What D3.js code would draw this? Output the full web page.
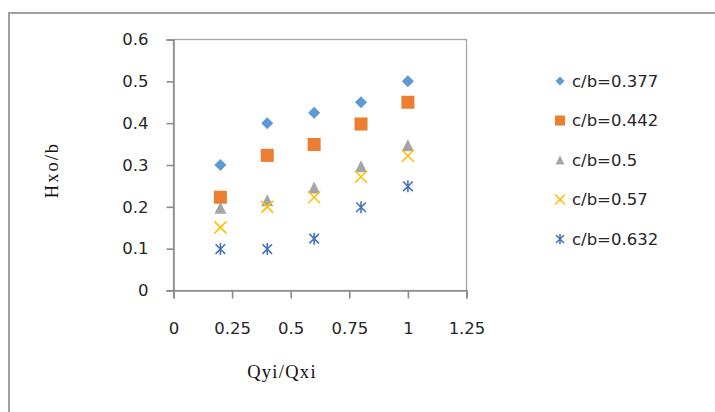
<!DOCTYPE html>
<html>
<head>
<meta charset="utf-8">
<script src="https://cdn.jsdelivr.net/npm/d3@7"></script>
<style>
  html, body { margin: 0; padding: 0; background: #fff; }
  svg { display: block; }
</style>
</head>
<body>
<svg id="chart" width="715" height="412"></svg>
<script>
// ---- data ----
const xValues = [0.2, 0.4, 0.6, 0.8, 1.0];
const seriesNames = ["c/b=0.377", "c/b=0.442", "c/b=0.5", "c/b=0.57", "c/b=0.632"];
const s0377 = [0.300, 0.400, 0.425, 0.450, 0.500];
const s0442 = [0.223, 0.323, 0.349, 0.398, 0.450];
const s05   = [0.198, 0.216, 0.246, 0.297, 0.347];
const s057  = [0.151, 0.200, 0.223, 0.272, 0.322];
const s0632 = [0.099, 0.099, 0.124, 0.199, 0.249];
const xTicks = [0, 0.25, 0.5, 0.75, 1, 1.25];
const yTicks = [0, 0.1, 0.2, 0.3, 0.4, 0.5, 0.6];
const xTitle = "Qyi/Qxi";
const yTitle = "Hxo/b";

const seriesValues = [s0377, s0442, s05, s057, s0632];
const colors = ["#5B9BD5", "#ED7D31", "#A5A5A5", "#FFC000", "#4472C4"];
const shapes = ["diamond", "square", "triangle", "x", "star"];

const svg = d3.select("#chart");

// outer frame
svg.append("path")
  .attr("d", "M9,412 L9,13 L715,13")
  .attr("fill", "none").attr("stroke", "#a0a0a0").attr("stroke-width", 2);

const x = d3.scaleLinear().domain([0, 1.25]).range([173.5, 466.5]);
const y = d3.scaleLinear().domain([0, 0.6]).range([290.5, 39.5]);

// plot area border
svg.append("rect")
  .attr("x", x(0)).attr("y", y(0.6))
  .attr("width", x(1.25) - x(0)).attr("height", y(0) - y(0.6))
  .attr("fill", "none").attr("stroke", "#a6a6a6").attr("stroke-width", 1.3);

const axisColor = "#8c8c8c";
const tickFont = "DejaVu Sans, sans-serif";

const gy = svg.append("g").attr("transform", `translate(${x(0)},0)`)
  .call(d3.axisLeft(y).tickValues(yTicks).tickSize(7).tickPadding(18)
        .tickFormat(d3.format("~g")));
const gx = svg.append("g").attr("transform", `translate(0,${y(0)})`)
  .call(d3.axisBottom(x).tickValues(xTicks).tickSize(8).tickPadding(24)
        .tickFormat(d3.format("~g")));
[gx, gy].forEach(g => {
  g.select(".domain").attr("stroke", axisColor).attr("stroke-width", 1.6);
  g.selectAll(".tick line").attr("stroke", axisColor).attr("stroke-width", 1.6);
  g.selectAll(".tick text").attr("fill", "#262626")
    .style("font-family", tickFont).style("font-size", "16.5px");
});

// axis titles
svg.append("text")
  .attr("x", 282).attr("y", 378)
  .attr("text-anchor", "middle")
  .style("font-family", "Liberation Serif, serif").style("font-size", "18.5px")
  .style("letter-spacing", "1.3px")
  .attr("fill", "#111")
  .text(xTitle);
svg.append("text")
  .attr("transform", "translate(58,170) rotate(-90)")
  .attr("text-anchor", "middle")
  .style("font-family", "Liberation Serif, serif").style("font-size", "18.5px")
  .style("letter-spacing", "2px")
  .attr("fill", "#111")
  .text(yTitle);

// marker drawing
function drawMarker(g, shape, color, s) {
  const h = s / 2;
  if (shape === "diamond") {
    g.append("path").attr("d", `M0,${-h} L${h},0 L0,${h} L${-h},0 Z`).attr("fill", color);
  } else if (shape === "square") {
    g.append("rect").attr("x", -h).attr("y", -h).attr("width", s).attr("height", s).attr("fill", color);
  } else if (shape === "triangle") {
    g.append("path").attr("d", `M0,${-h} L${h},${h} L${-h},${h} Z`).attr("fill", color);
  } else if (shape === "x") {
    g.append("path").attr("d", `M${-h},${-h} L${h},${h} M${-h},${h} L${h},${-h}`)
      .attr("stroke", color).attr("stroke-width", 1.6).attr("fill", "none");
  } else if (shape === "star") {
    const k = h * 0.8;
    g.append("path").attr("d", `M${-k},${-k} L${k},${k} M${-k},${k} L${k},${-k} M0,${-h} L0,${h}`)
      .attr("stroke", color).attr("stroke-width", 1.6).attr("fill", "none");
  }
}

const plotSizes = [12, 13, 12, 12, 12];
seriesValues.forEach((vals, i) => {
  const g = svg.append("g");
  vals.forEach((v, j) => {
    const m = g.append("g").attr("transform", `translate(${x(xValues[j])},${y(v)})`);
    drawMarker(m, shapes[i], colors[i], plotSizes[i]);
  });
});

// legend
const legendY = d3.scaleLinear().domain([0, 4]).range([81, 239]);
const legendSizes = [9, 10, 9, 10, 10];
seriesNames.forEach((name, i) => {
  const ly = legendY(i);
  const m = svg.append("g").attr("transform", `translate(560,${ly})`);
  drawMarker(m, shapes[i], colors[i], legendSizes[i]);
  svg.append("text")
    .attr("x", 572).attr("y", ly).attr("dy", "0.36em")
    .style("font-family", tickFont).style("font-size", "16.5px")
    .attr("fill", "#262626")
    .text(name);
});
</script>
</body>
</html>
